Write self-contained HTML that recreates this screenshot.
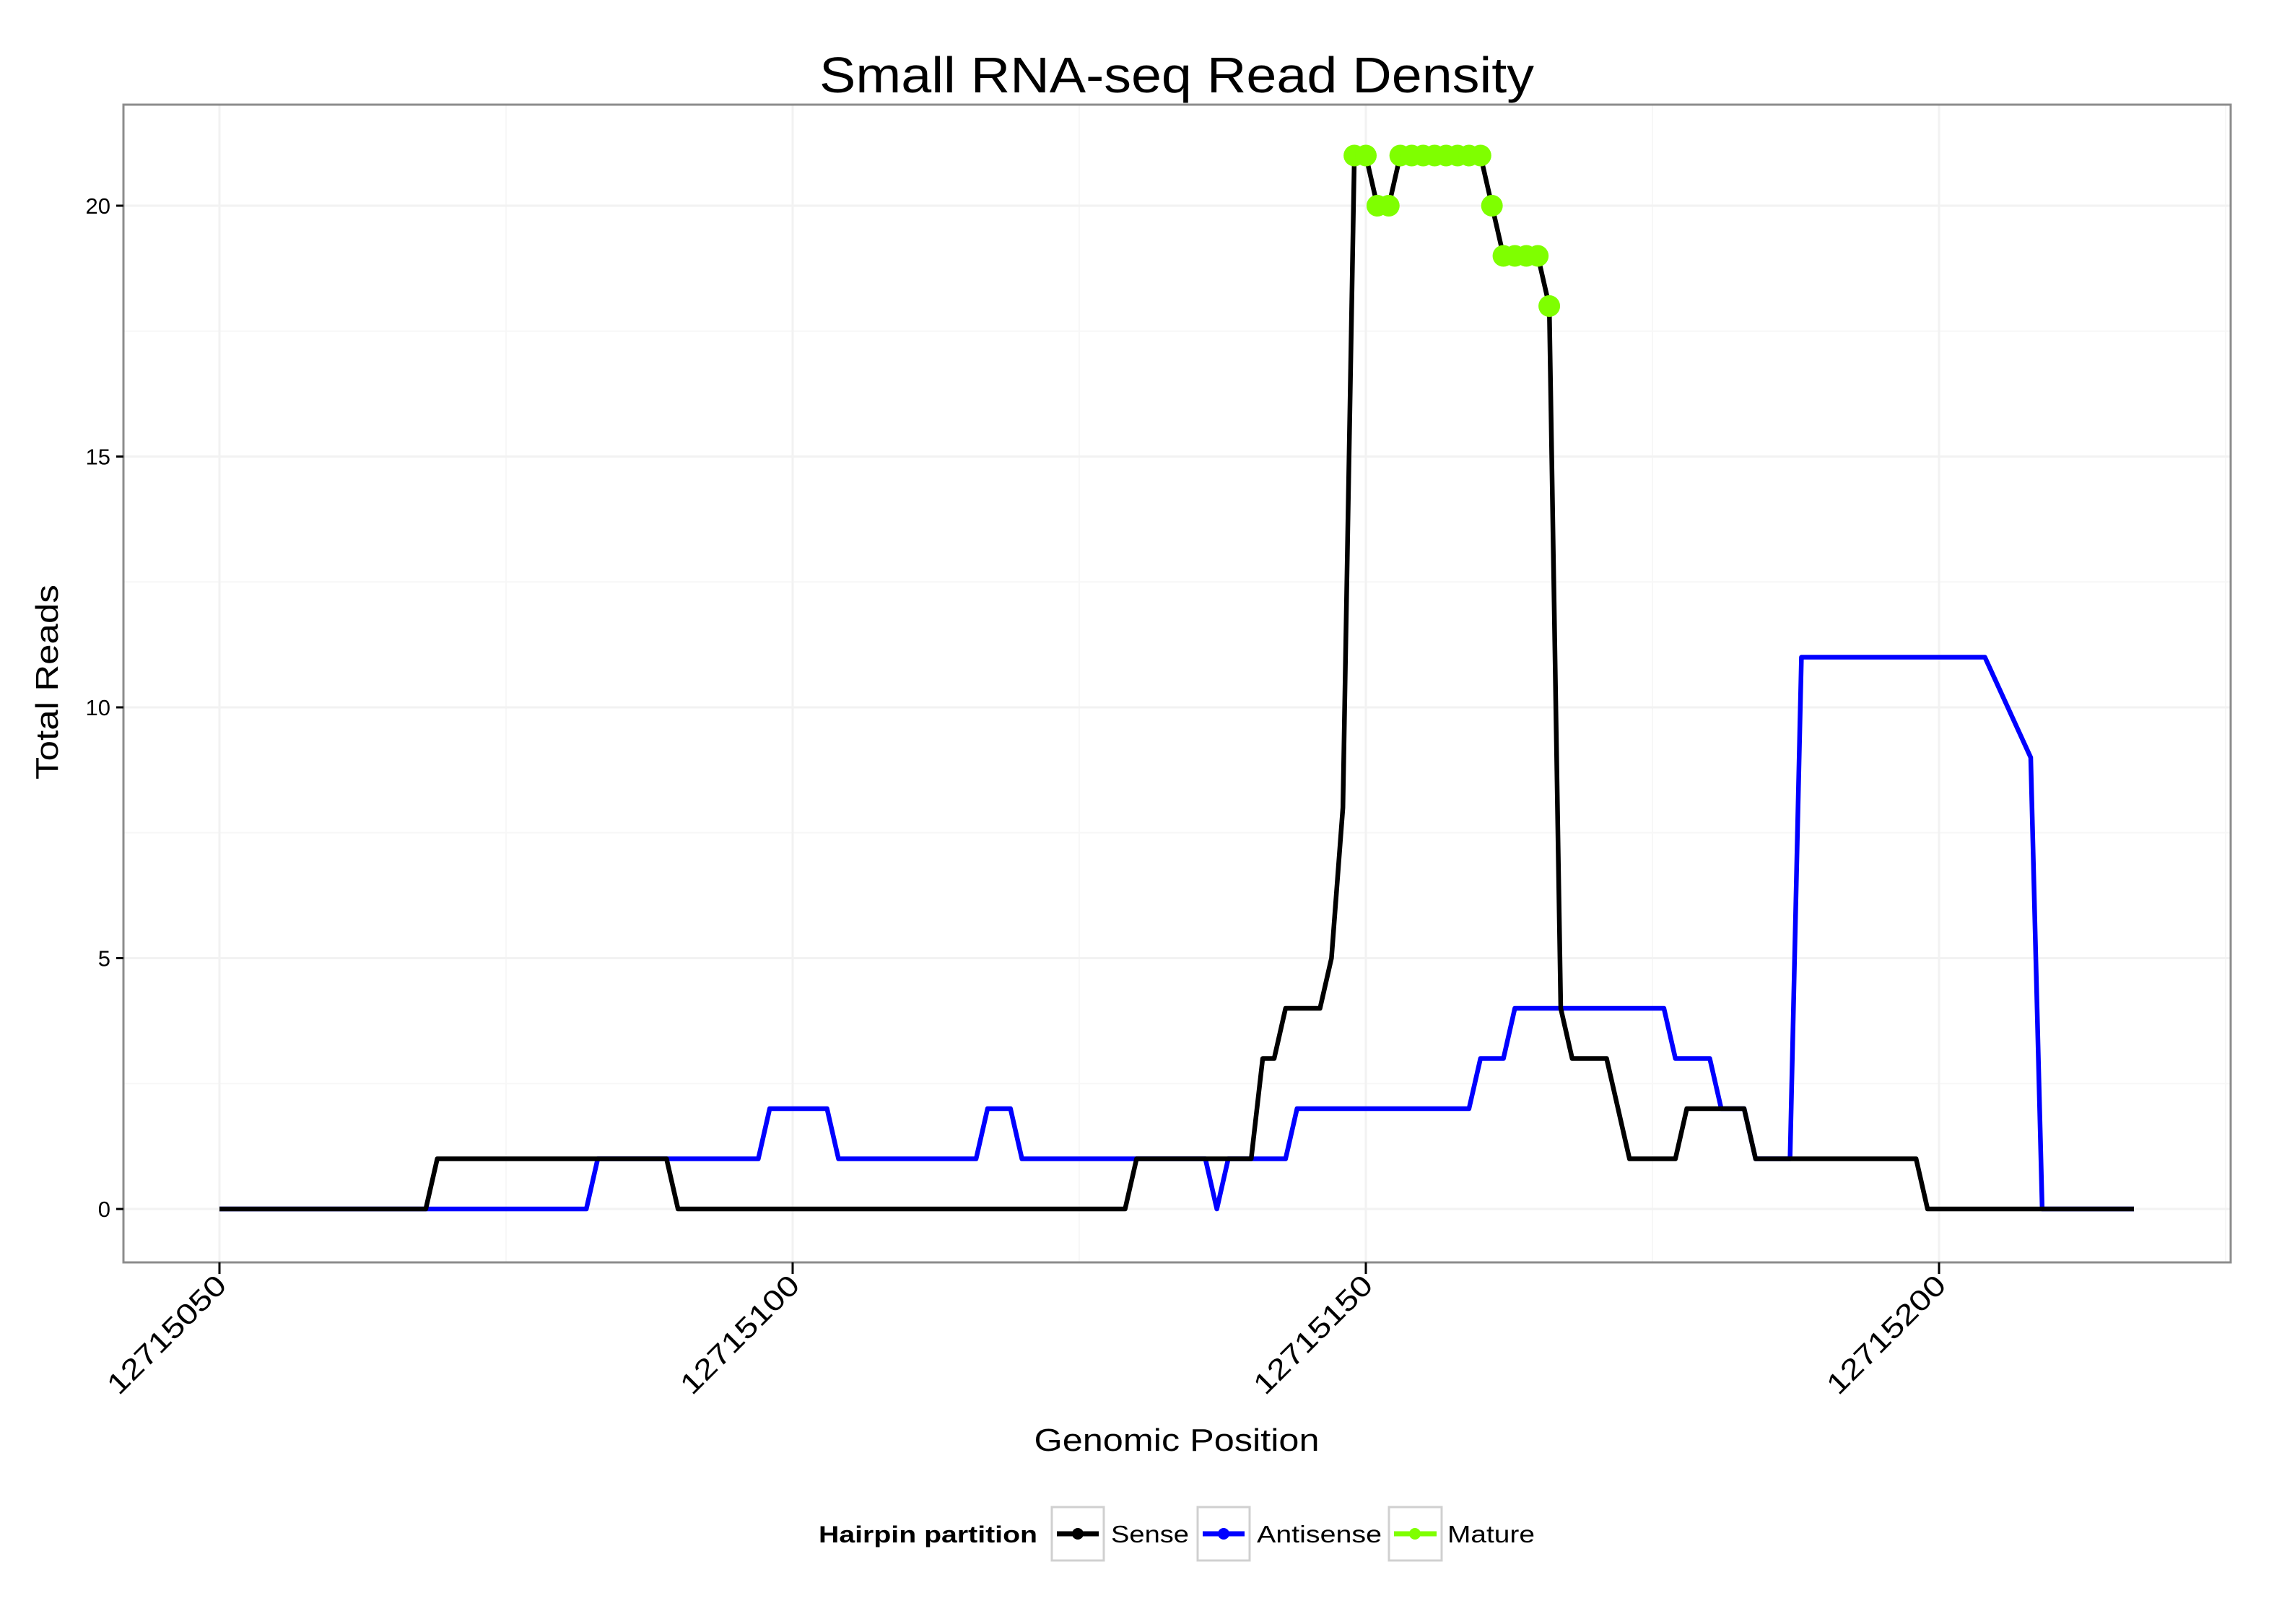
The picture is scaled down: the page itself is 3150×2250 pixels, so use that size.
<!DOCTYPE html>
<html><head><meta charset="utf-8"><style>
html,body{margin:0;padding:0;background:#fff;}
svg{display:block;font-family:"Liberation Sans","DejaVu Sans",sans-serif;}
</style></head><body>
<svg id="chart" width="3150" height="2250" viewBox="0 0 3150 2250" xmlns="http://www.w3.org/2000/svg">
<rect x="0" y="0" width="3150" height="2250" fill="#fff"/>
<text x="1630" y="128" font-size="70" text-anchor="middle" fill="#000" textLength="990" lengthAdjust="spacingAndGlyphs">Small RNA-seq Read Density</text>
<g id="panel"></g>
<text x="1630" y="2010" font-size="44" text-anchor="middle" textLength="395" lengthAdjust="spacingAndGlyphs">Genomic Position</text>
<text transform="translate(80,945) rotate(-90)" font-size="44" text-anchor="middle" textLength="270" lengthAdjust="spacingAndGlyphs">Total Reads</text>
<g>
<text x="1134" y="2137" font-size="32" font-weight="bold" textLength="303" lengthAdjust="spacingAndGlyphs">Hairpin partition</text>
<g>
<rect x="1457" y="2088" width="72" height="74" fill="#fff" stroke="#d0d0d0" stroke-width="3"/>
<line x1="1464" y1="2125" x2="1522" y2="2125" stroke="#000" stroke-width="7"/><circle cx="1493" cy="2125" r="8" fill="#000"/>
<text x="1539" y="2137" font-size="33" textLength="108" lengthAdjust="spacingAndGlyphs">Sense</text></g>
<g>
<rect x="1659" y="2088" width="72" height="74" fill="#fff" stroke="#d0d0d0" stroke-width="3"/>
<line x1="1666" y1="2125" x2="1724" y2="2125" stroke="#0000ff" stroke-width="7"/><circle cx="1695" cy="2125" r="8" fill="#0000ff"/>
<text x="1741" y="2137" font-size="33" textLength="173" lengthAdjust="spacingAndGlyphs">Antisense</text></g>
<g>
<rect x="1924" y="2088" width="73" height="74" fill="#fff" stroke="#d0d0d0" stroke-width="3"/>
<line x1="1931" y1="2125" x2="1990" y2="2125" stroke="#7fff00" stroke-width="7"/><circle cx="1960" cy="2125" r="8" fill="#7fff00"/>
<text x="2005" y="2137" font-size="33" textLength="121" lengthAdjust="spacingAndGlyphs">Mature</text></g>
</g>
</svg>
<script>
const xTicks = [12715050, 12715100, 12715150, 12715200];
const yTicks = [0, 5, 10, 15, 20];
const senseX = [50,68,69,89,90,129,130,140,141,142,143,146,147,148,149,150,151,152,153,160,161,162,165,166,167,168,171,173,177,178,183,184,198,199,217];
const senseY = [0,0,1,1,0,0,1,1,3,3,4,4,5,8,21,21,20,20,21,21,20,19,19,18,4,3,3,1,1,2,2,1,1,0,0];
const antiX = [50,82,83,97,98,103,104,116,117,119,120,136,137,138,143,144,159,160,162,163,176,177,180,181,183,184,187,188,204,208,209,217];
const antiY = [0,0,1,1,2,2,1,1,2,2,1,1,0,1,1,2,2,3,3,4,4,3,3,2,2,1,1,11,11,9,0,0];
const matureX = [149,150,151,152,153,154,155,156,157,158,159,160,161,162,163,164,165,166];
const matureY = [21,21,20,20,21,21,21,21,21,21,21,21,20,19,19,19,19,18];

const BASE = 12715000;
const PL = 171, PR = 3090, PT = 145, PB = 1749;
function sx(v){ return 304 + (v - 12715050) * 15.88; }
function sy(v){ return 1675 - v * 69.5; }
const NS = "http://www.w3.org/2000/svg";
const panel = document.getElementById('panel');
function mk(tag, attrs, parent){ const e = document.createElementNS(NS, tag); for (const k in attrs) e.setAttribute(k, attrs[k]); (parent||panel).appendChild(e); return e; }

mk('rect', {x:PL, y:PT, width:PR-PL, height:PB-PT, fill:'#fff'});
// minor gridlines
for (let i = 0; i < yTicks.length; i++) {
  const m = yTicks[i] + 2.5;
  if (sy(m) > PT) { const g = mk('line', {x1:PL, x2:PR, y1:sy(m), y2:sy(m), stroke:'#f7f7f7', 'stroke-width':2});
      }
}
for (let i = 0; i < xTicks.length; i++) {
  const m = xTicks[i] + 25;
  if (sx(m) < PR) { const g = mk('line', {x1:sx(m), x2:sx(m), y1:PT, y2:PB, stroke:'#f7f7f7', 'stroke-width':2});
      }
}
// major gridlines
yTicks.forEach(t => { const g = mk('line', {x1:PL, x2:PR, y1:sy(t), y2:sy(t), stroke:'#f2f2f2', 'stroke-width':3});
    });
xTicks.forEach(t => { const g = mk('line', {x1:sx(t), x2:sx(t), y1:PT, y2:PB, stroke:'#f2f2f2', 'stroke-width':3});
    });

function path(xs, ys, color, name){
  let d = '';
  for (let i = 0; i < xs.length; i++) d += (i ? 'L' : 'M') + sx(BASE + xs[i]).toFixed(1) + ',' + sy(ys[i]).toFixed(1);
  const p = mk('path', {d:d, fill:'none', stroke:color, 'stroke-width':6.5, 'stroke-linejoin':'round'});
  
  
}
path(antiX, antiY, '#0000ff', 'antisense-line');
path(senseX, senseY, '#000000', 'sense-line');
for (let i = 0; i < matureX.length; i++) {
  const c = mk('circle', {cx:sx(BASE + matureX[i]), cy:sy(matureY[i]), r:15, fill:'#7fff00'});
  
  
}
// border
mk('rect', {x:PL, y:PT, width:PR-PL, height:PB-PT, fill:'none', stroke:'#8c8c8c', 'stroke-width':3});
// y ticks
yTicks.forEach(t => {
  mk('line', {x1:PL-10, x2:PL, y1:sy(t), y2:sy(t), stroke:'#000', 'stroke-width':3});
  const tx = mk('text', {x:PL-18, y:sy(t)+11, 'font-size':31, 'text-anchor':'end'});
  tx.textContent = t;
  
  
});
// x ticks
xTicks.forEach(t => {
  mk('line', {x1:sx(t), x2:sx(t), y1:PB, y2:PB+16, stroke:'#000', 'stroke-width':3});
  const tx = mk('text', {x:0, y:0, 'font-size':40, 'text-anchor':'end', transform:'translate(' + (sx(t)+12) + ',' + (PB+34) + ') rotate(-45)', textLength:'214', lengthAdjust:'spacingAndGlyphs'});
  tx.textContent = t;
  
  
});
</script>
</body></html>
